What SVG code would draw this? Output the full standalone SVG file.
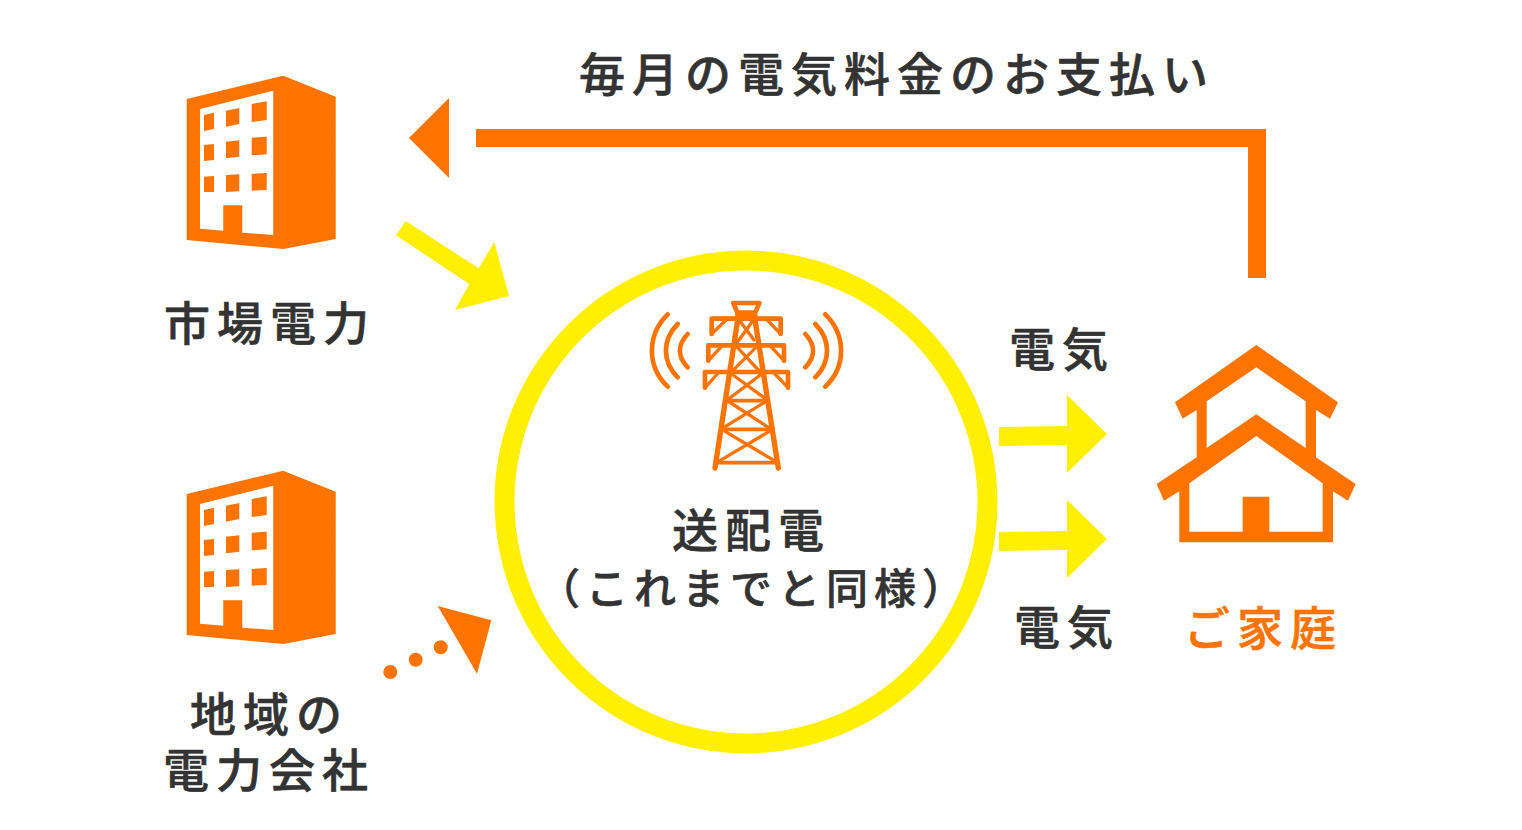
<svg xmlns="http://www.w3.org/2000/svg" width="1522" height="830" viewBox="0 0 1522 830">
<style>
text{font-family:"Noto Sans CJK JP","Noto Sans JP",sans-serif;font-weight:500;font-size:46px;fill:#333;stroke:#333;stroke-width:.6px;letter-spacing:7px}
.o{fill:#ff7300}
.y{fill:#fff000}
.tw{fill:none;stroke:#ff7300;stroke-width:14;stroke-linecap:round;stroke-linejoin:round}
.td{fill:none;stroke:#ff7300;stroke-width:10;stroke-linecap:round}
.ob{fill:#ff7300;stroke:#ff7300}
</style>
<defs>
<path id="bld" class="o" fill-rule="evenodd" d="M186.700 99L283.300 75.700L335.700 96.700V239L283.300 249L186.700 240ZM200 109V228.700L223.300 230.700V205.300H242.300V232.700L273.300 235V90.700ZM204 115L214 112.700V129L204 131ZM226 110.700L239.300 108V124L226 126.700ZM251.700 104L266.700 101.300V120L251.700 122ZM204 145L214 144V160L204 161ZM226 141.700L239.300 140.300V156.700L226 158.300ZM251.700 137.700L266.700 136.700V154.300L251.700 155.300ZM204 176.700L214 176V192H204ZM226 175L239.300 174.300V191.300L226 192ZM251.700 174L266.700 173V190L251.700 190.700Z"/>
</defs>
<g id="connectors">
<path class="o" d="M476 129H1266V278H1248V147H476Z"/>
<path class="o" d="M409 138L449 98V178Z"/>
<path class="y" d="M396 235.300L405.700 221L478.700 268.300L494.300 242L509 296L455 310L469.300 284Z"/>
<path class="y" d="M999 427L1067 426V395L1107 434L1067 473V445L999 446Z"/>
<path class="y" d="M999 532L1067 531V500L1107 539L1067 578V550L999 551Z"/>
<g class="o"><circle cx="390.300" cy="672" r="7"/><circle cx="415.700" cy="659.700" r="7"/><circle cx="440.700" cy="647.300" r="7"/><path d="M437.700 606L491.300 620.300L477 673.700Z"/></g>
</g>
<g id="market"><use href="#bld"/><text x="164" y="340">市場電力</text></g>
<g id="local"><use href="#bld" y="395"/><text x="190" y="731">地域の</text><text x="163" y="787">電力会社</text></g>
<g id="grid">
<circle cx="746" cy="502" r="241.500" fill="#fff" stroke="#fff000" stroke-width="20"/>
<g transform="translate(630 290) scale(.33333)">
<path class="tw" d="M113 73C50 135 50 230 113 290M143 102C96 150 96 215 143 262M173 132C142 165 142 200 173 232M586 73C649 135 649 230 586 290M556 102C603 150 603 215 556 262M526 132C557 165 557 200 526 232"/>
<path class="tw" d="M310 39H388L376 68H322ZM322 76H376M245 86H452V132M245 132V86M235 166H462V212M235 212V166M225 246H474V293M225 293V246"/>
<path class="td" d="M452 132L412 90M245 132L288 90M462 212L425 172M235 212L272 172M474 293L435 252M225 293L262 252M332 96L372 150M366 96L314 168M322 172L385 240M378 172L300 250M305 252L405 325M395 252L298 325M298 336L415 412M405 336L282 412M285 424L438 515M418 424L265 515"/>
<path class="td" style="stroke-width:11" d="M295 332H408M282 418H420M262 518H440"/>
<path class="tw" style="stroke-width:16" d="M326 70L255 534M372 70L445 534" stroke-linecap="butt"/>
</g>
<text x="672" y="547">送配電</text>
<text x="538" y="604" style="font-size:42px;letter-spacing:6px">（これまでと同様）</text>
</g>
<g id="home">
<g transform="translate(1140 330) scale(.33333)">
<path class="o" fill-rule="evenodd" d="M349 45L594 217L570 266L528 240V382L647 462L624 512L579 484V637H118V484L72 512L50 462L170 382V240L128 266L105 217ZM349 112L200 214V354L349 253L497 354V214ZM349 318L148 460V605H308V500H388V605H548V460Z"/>
</g>
<text x="1184" y="645" style="fill:#ff7300;stroke:#ff7300">ご家庭</text>
</g>
<g id="title"><text x="579" y="91">毎月の電気料金のお支払い</text></g>
<g id="e1"><text x="1009" y="366">電気</text></g>
<g id="e2"><text x="1014" y="644">電気</text></g>
</svg>
